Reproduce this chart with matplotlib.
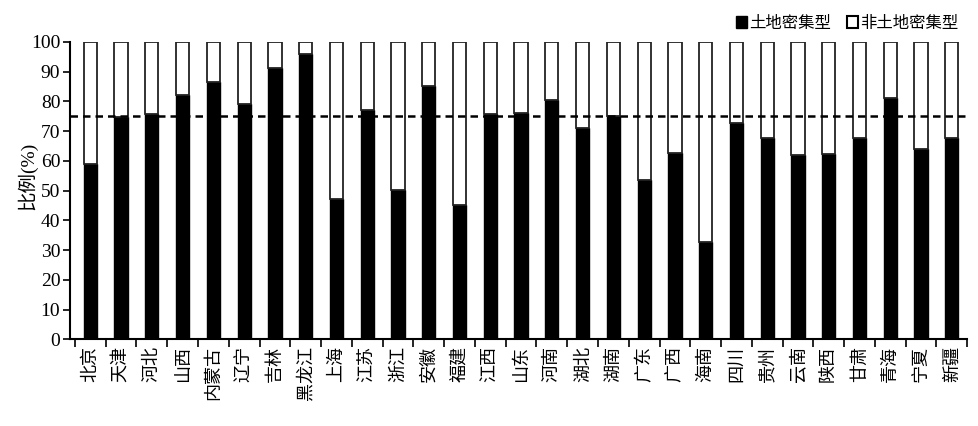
import numpy as np
import matplotlib
matplotlib.use('Agg')
import matplotlib.pyplot as plt
from matplotlib.patches import Patch

plt.rcParams['font.family'] = ['Liberation Serif', 'Noto Sans CJK SC']

provinces = ['北京', '天津', '河北', '山西', '内蒙古', '辽宁', '吉林', '黑龙江', '上海', '江苏',
             '浙江', '安徽', '福建', '江西', '山东', '河南', '湖北', '湖南', '广东', '广西',
             '海南', '四川', '贵州', '云南', '陕西', '甘肃', '青海', '宁夏', '新疆']
intensive = [58.8, 74.6, 75.6, 82.0, 86.6, 79.1, 91.1, 95.9, 47.0, 77.0,
             50.2, 85.2, 45.1, 75.7, 76.0, 80.3, 71.1, 75.2, 53.5, 62.5,
             32.8, 72.7, 67.6, 61.9, 62.4, 67.5, 81.0, 64.0, 67.7]
threshold = 75

non_intensive = [100 - v for v in intensive]
x = np.arange(len(provinces))

fig = plt.figure(figsize=(9.79, 4.26), dpi=100)
ax = fig.add_axes([0.0715, 0.2035, 0.9165, 0.6985])

# stacked bars
ax.bar(x, intensive, width=0.43, color='black', edgecolor='black', linewidth=1.0)
ax.bar(x, non_intensive, bottom=intensive, width=0.43, color='white',
       edgecolor='#222222', linewidth=1.3)

# reference line at 75%
ax.axhline(threshold, color='black', linestyle=(0, (3, 2)), linewidth=1.8)

ax.set_xlim(-0.66, len(provinces) - 0.5)
ax.set_ylim(0, 100)
ax.set_yticks(np.arange(0, 101, 10))
ax.tick_params(axis='y', labelsize=14, length=5, width=1.2, direction='out', pad=2)

# boundary ticks between categories, labels in the middle
ax.set_xticks(np.arange(-0.5, len(provinces)), minor=False)
ax.set_xticklabels([])
ax.set_xticks(x, minor=True)
ax.set_xticklabels(provinces, minor=True, rotation=90, fontsize=13,
                   family=['Noto Sans CJK SC'])
ax.tick_params(axis='x', which='major', length=6, width=1.2)
ax.tick_params(axis='x', which='minor', length=0, pad=5)

ax.set_ylabel('比例(%)', fontsize=14)
ax.yaxis.set_label_coords(-0.037, 0.55)

ax.spines['top'].set_visible(False)
ax.spines['right'].set_visible(False)
ax.spines['left'].set_linewidth(1.5)
ax.spines['bottom'].set_linewidth(1.5)

handles = [Patch(facecolor='black', edgecolor='black', label='土地密集型'),
           Patch(facecolor='white', edgecolor='black', linewidth=1.5, label='非土地密集型')]
fig.legend(handles=handles, loc='upper right', bbox_to_anchor=(0.994, 1.0), ncol=2,
           frameon=False, handlelength=0.7, handleheight=0.7,
           handletextpad=0.1, columnspacing=1.0, prop={'family': ['Noto Sans CJK SC'], 'size': 11.8})

fig.savefig('out.png', dpi=100)
